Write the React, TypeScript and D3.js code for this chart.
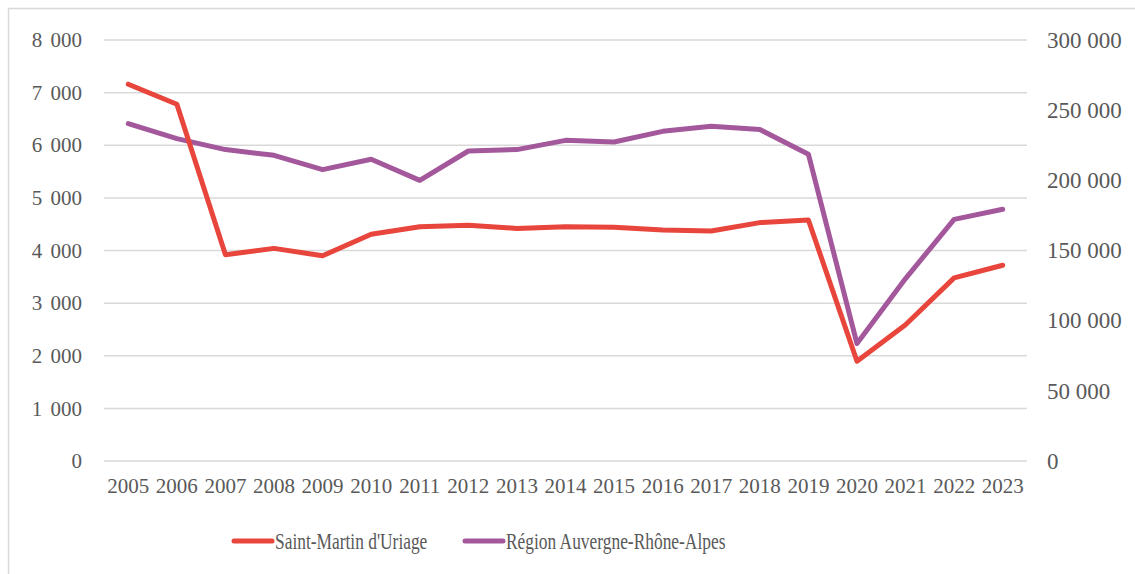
import React, { useRef, useEffect } from "react";
import * as d3 from "d3";

const years = [
  "2005", "2006", "2007", "2008", "2009", "2010", "2011", "2012", "2013", "2014",
  "2015", "2016", "2017", "2018", "2019", "2020", "2021", "2022", "2023",
];

// Saint-Martin d'Uriage (left axis)
const saintMartin = [
  7160, 6780, 3920, 4040, 3900, 4310, 4450, 4480, 4420, 4450,
  4440, 4390, 4370, 4530, 4580, 1895, 2590, 3480, 3720,
];

// Région Auvergne-Rhône-Alpes (right axis)
const region = [
  240400, 229700, 221900, 217800, 207600, 215000, 200000, 220900, 221900, 228500,
  227300, 234900, 238500, 236200, 218600, 83700, 130000, 172200, 179400,
];

const leftTicks = [0, 1000, 2000, 3000, 4000, 5000, 6000, 7000, 8000];
const rightTicks = [0, 50000, 100000, 150000, 200000, 250000, 300000];

const seriesNames = ["Saint-Martin d'Uriage", "Région Auvergne-Rhône-Alpes"];
const seriesColors = ["#E8453C", "#A4589C"];

const fmt = (v: number) => d3.format(",")(v).replace(/,/g, " ");

const App = () => {
  const svgRef = useRef<SVGSVGElement>(null);

  useEffect(() => {
    const width = 1135;
    const height = 574;
    const margin = { top: 40, right: 108, bottom: 113, left: 104 };

    const svg = d3.select(svgRef.current);
    svg.selectAll("*").remove();

    const font = '"Liberation Serif", "DejaVu Serif", serif';
    const textColor = "#595959";

    // outer frame
    svg
      .append("rect")
      .attr("x", 8.5)
      .attr("y", 8.5)
      .attr("width", width + 20)
      .attr("height", height + 20)
      .attr("fill", "white")
      .attr("stroke", "#D9D9D9")
      .attr("stroke-width", 1.5);

    const x = d3
      .scaleBand()
      .domain(years)
      .range([margin.left, width - margin.right]);
    const yL = d3
      .scaleLinear()
      .domain([0, 8000])
      .range([height - margin.bottom, margin.top]);
    const yR = d3
      .scaleLinear()
      .domain([0, 300000])
      .range([height - margin.bottom, margin.top]);

    // gridlines
    svg
      .append("g")
      .selectAll("line")
      .data(leftTicks)
      .join("line")
      .attr("x1", margin.left)
      .attr("x2", width - margin.right)
      .attr("y1", (d) => yL(d))
      .attr("y2", (d) => yL(d))
      .attr("stroke", "#D9D9D9")
      .attr("stroke-width", 1.5);

    const label = (sel: any, size = 21) =>
      sel
        .style("font-family", font)
        .style("font-size", `${size}px`)
        .attr("fill", textColor);

    // left axis labels
    svg
      .append("g")
      .selectAll("text")
      .data(leftTicks)
      .join("text")
      .attr("x", 82)
      .attr("y", (d) => yL(d))
      .attr("dy", "0.34em")
      .attr("text-anchor", "end")
      .style("word-spacing", "3px")
      .call(label)
      .text((d) => fmt(d));

    // right axis labels
    svg
      .append("g")
      .selectAll("text")
      .data(rightTicks)
      .join("text")
      .attr("x", 1047)
      .attr("y", (d) => yR(d))
      .attr("dy", "0.34em")
      .attr("text-anchor", "start")
      .call(label, 23)
      .text((d) => fmt(d));

    // x labels
    svg
      .append("g")
      .selectAll("text")
      .data(years)
      .join("text")
      .attr("x", (d) => x(d)! + x.bandwidth() / 2)
      .attr("y", 493)
      .attr("text-anchor", "middle")
      .call(label)
      .text((d) => d);

    const cx = (i: number) => x(years[i])! + x.bandwidth() / 2;

    const lineL = d3
      .line<number>()
      .x((_, i) => cx(i))
      .y((d) => yL(d));
    const lineR = d3
      .line<number>()
      .x((_, i) => cx(i))
      .y((d) => yR(d));

    svg
      .append("path")
      .datum(region)
      .attr("d", lineR)
      .attr("fill", "none")
      .attr("stroke", seriesColors[1])
      .attr("stroke-width", 5)
      .attr("stroke-linejoin", "round")
      .attr("stroke-linecap", "round");

    svg
      .append("path")
      .datum(saintMartin)
      .attr("d", lineL)
      .attr("fill", "none")
      .attr("stroke", seriesColors[0])
      .attr("stroke-width", 5)
      .attr("stroke-linejoin", "round")
      .attr("stroke-linecap", "round");

    // legend (text is drawn tall and narrow in the original)
    const legendX = [232, 463];
    const legend = svg
      .append("g")
      .selectAll("g")
      .data(seriesNames)
      .join("g")
      .attr("transform", (_, i) => `translate(${legendX[i]},541)`);
    legend
      .append("line")
      .attr("x1", 2)
      .attr("x2", 40)
      .attr("stroke", (_, i) => seriesColors[i])
      .attr("stroke-width", 5)
      .attr("stroke-linecap", "round");
    legend
      .append("text")
      .attr("transform", "translate(43,8) scale(1,1.38)")
      .call(label, 17.4)
      .text((d) => d);
  }, []);

  return (
    <svg
      ref={svgRef}
      width={1135}
      height={574}
      style={{ position: "absolute", left: 0, top: 0 }}
    ></svg>
  );
};

export default App;
